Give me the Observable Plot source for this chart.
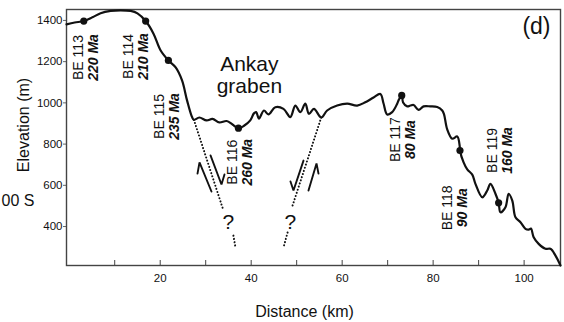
<!DOCTYPE html>
<html>
<head>
<meta charset="utf-8">
<script src="https://cdn.jsdelivr.net/npm/d3@7"></script>
<script src="https://cdn.jsdelivr.net/npm/@observablehq/plot@0.6"></script>
<style>
  html, body { margin: 0; padding: 0; background: #fff; }
  #chart svg { display: block; }
</style>
</head>
<body>
<div id="chart"></div>
<script>
// Topographic profile (distance km, elevation m)
const profileKm = [-0.6, 1.2, 3.2, 5.1, 6.9, 9.1, 11.3, 13.5, 15.0, 16.8, 18.5, 20.1, 21.8, 23.4, 24.8, 25.9, 27.0, 27.4,
  28.6, 30.2, 31.5, 33.0, 34.6, 35.9, 37.2, 38.5, 39.8, 40.6, 41.1, 41.7, 42.8, 43.8, 45.3, 47.1, 48.6, 49.7, 50.8, 51.9,
  52.7, 53.8, 55.4, 56.7, 58.9, 61.1, 63.3, 65.1, 66.9, 68.4, 69.1, 69.9, 71.0, 72.1, 72.5, 73.1, 73.4, 74.3, 75.0, 75.7,
  76.8, 77.9, 79.4, 80.9, 82.0, 82.4, 83.1, 84.2, 85.3, 85.85, 85.9, 86.7, 87.5, 88.6, 89.3, 90.8, 91.9, 92.6, 93.7, 94.4,
  94.8, 95.9, 96.6, 97.4, 98.1, 99.2, 100.3, 101.0, 101.5, 102.1, 103.2, 104.7, 105.8, 106.9, 108.0];
const profileElev = [1381, 1390, 1397, 1415, 1435, 1446, 1449, 1446, 1434, 1397, 1337, 1254, 1206, 1172, 1109, 1012, 931, 918,
  929, 915, 922, 905, 912, 895, 877, 890, 915, 949, 955, 924, 963, 944, 979, 971, 931, 987, 955, 996,
  947, 971, 929, 963, 987, 996, 987, 1003, 1026, 1043, 997, 944, 955, 996, 1017, 1036, 1002, 983, 987, 990,
  966, 983, 983, 980, 963, 944, 871, 826, 837, 788, 769, 711, 677, 652, 607, 542, 575, 607, 559, 515,
  469, 494, 559, 526, 445, 421, 389, 385, 390, 348, 316, 292, 292, 259, 211];

// Samples
const sampleNames = ["BE 113", "BE 114", "BE 115", "BE 116", "BE 117", "BE 118", "BE 119"];
const sampleAges = ["220 Ma", "210 Ma", "235 Ma", "260 Ma", "80 Ma", "90 Ma", "160 Ma"];
const sampleKm = [3.2, 16.8, 21.8, 37.2, 73.1, 85.9, 94.4];
const sampleElev = [1397, 1397, 1206, 877, 1036, 769, 515];
const labelKm = [3.7, 14.7, 21.4, 37.6, 73.4, 84.9, 94.6];
const labelElev = [1220, 1225, 934, 712, 822, 491, 769];

// Faults (dotted), question marks, slip arrows
const faultId = ["L1", "L1", "L2", "L2", "R1", "R1", "R2", "R2"];
const faultKm = [27.4, 33.9, 36.1, 36.55, 55.4, 49.1, 48.0, 47.1];
const faultElev = [918, 478, 356, 298, 929, 502, 371, 298];
const questionKm = [35.0, 48.6];
const questionElev = [422, 422];
const arrowId = ["A1", "A1", "A1", "A2", "A2", "A2", "A3", "A3", "A3", "A4", "A4", "A4"];
const arrowKm = [28.2, 28.64, 31.27, 31.06, 33.47, 34.13, 51.5, 49.3, 48.64, 52.6, 54.36, 54.8];
const arrowElev = [657, 711, 570, 745, 604, 652.5, 720, 575, 618.5, 575, 706, 657];

const yTicks = [400, 600, 800, 1000, 1200, 1400];
const xTickMarks = [10, 20, 30, 40, 50, 60, 70, 80, 90, 100];
const xTickLabels = [20, 40, 60, 80, 100];

const profile = profileKm.map((x, i) => ({x, y: profileElev[i]}));
const samples = sampleNames.map((name, i) => ({name, age: sampleAges[i], x: sampleKm[i], y: sampleElev[i], lx: labelKm[i], ly: labelElev[i]}));
const faults = faultId.map((id, i) => ({id, x: faultKm[i], y: faultElev[i]}));
const arrows = arrowId.map((id, i) => ({id, x: arrowKm[i], y: arrowElev[i]}));
const questions = questionKm.map((x, i) => ({x, y: questionElev[i]}));

const font = "'Liberation Sans', Arial, Helvetica, sans-serif";

const chart = Plot.plot({
  width: 564,
  height: 322,
  marginLeft: 66,
  marginRight: 4,
  marginTop: 9,
  marginBottom: 57,
  style: {fontFamily: font, color: "#111", background: "#fff"},
  x: {domain: [-0.6, 108], axis: null},
  y: {domain: [211, 1453], axis: null},
  marks: [
    Plot.axisY({ticks: yTicks, tickSize: 3, tickPadding: 1, fontSize: 11.5, tickFormat: d => String(d), label: null, stroke: "#666"}),
    Plot.axisX({ticks: xTickMarks, tickSize: 5, dy: -5, tickFormat: () => "", label: null, stroke: "#444"}),
    Plot.axisX({ticks: xTickLabels, tickSize: 0, tickPadding: 8, fontSize: 11.5, tickFormat: d => String(d), label: null}),
    Plot.frame({stroke: "#444", strokeWidth: 1.4}),
    Plot.line(faults, {x: "x", y: "y", z: "id", stroke: "#111", strokeWidth: 2, strokeDasharray: "0.1,3.2", strokeLinecap: "round"}),
    Plot.line(arrows, {x: "x", y: "y", z: "id", stroke: "#111", strokeWidth: 1.9, strokeLinejoin: "miter"}),
    Plot.text(questions, {x: "x", y: "y", text: () => "?", fontSize: 21, fill: "#111"}),
    Plot.line(profile, {x: "x", y: "y", stroke: "#111", strokeWidth: 2.2, curve: "catmull-rom"}),
    Plot.dot(samples, {x: "x", y: "y", r: 3.6, fill: "#111"}),
    Plot.text(samples, {x: "lx", y: "ly", text: "name", rotate: -90, dx: -7.5, fontSize: 14, fill: "#111"}),
    Plot.text(samples, {x: "lx", y: "ly", text: "age", rotate: -90, dx: 7.5, fontSize: 14, fontWeight: "bold", fontStyle: "italic", fill: "#111"}),
    Plot.text(["Ankay\ngraben"], {x: 39.6, y: 1230, lineAnchor: "top", lineHeight: 1.05, fontSize: 21, fill: "#111"}),
    Plot.text(["(d)"], {frameAnchor: "top-right", dx: -10, dy: 24.5, lineAnchor: "bottom", textAnchor: "end", fontSize: 23, fill: "#111"}),
    Plot.text(["00 S"], {frameAnchor: "top-left", dx: -65, dy: 196, lineAnchor: "bottom", textAnchor: "start", fontSize: 16, fill: "#111"}),
    Plot.text(["Elevation (m)"], {frameAnchor: "left", rotate: -90, dx: -38, dy: -12.5, lineAnchor: "bottom", textAnchor: "middle", fontSize: 16, fill: "#111"}),
    Plot.text(["Distance (km)"], {frameAnchor: "bottom", dx: -9, dy: 51, lineAnchor: "bottom", textAnchor: "middle", fontSize: 16, fill: "#111"})
  ]
});
document.getElementById("chart").appendChild(chart);
</script>
</body>
</html>
